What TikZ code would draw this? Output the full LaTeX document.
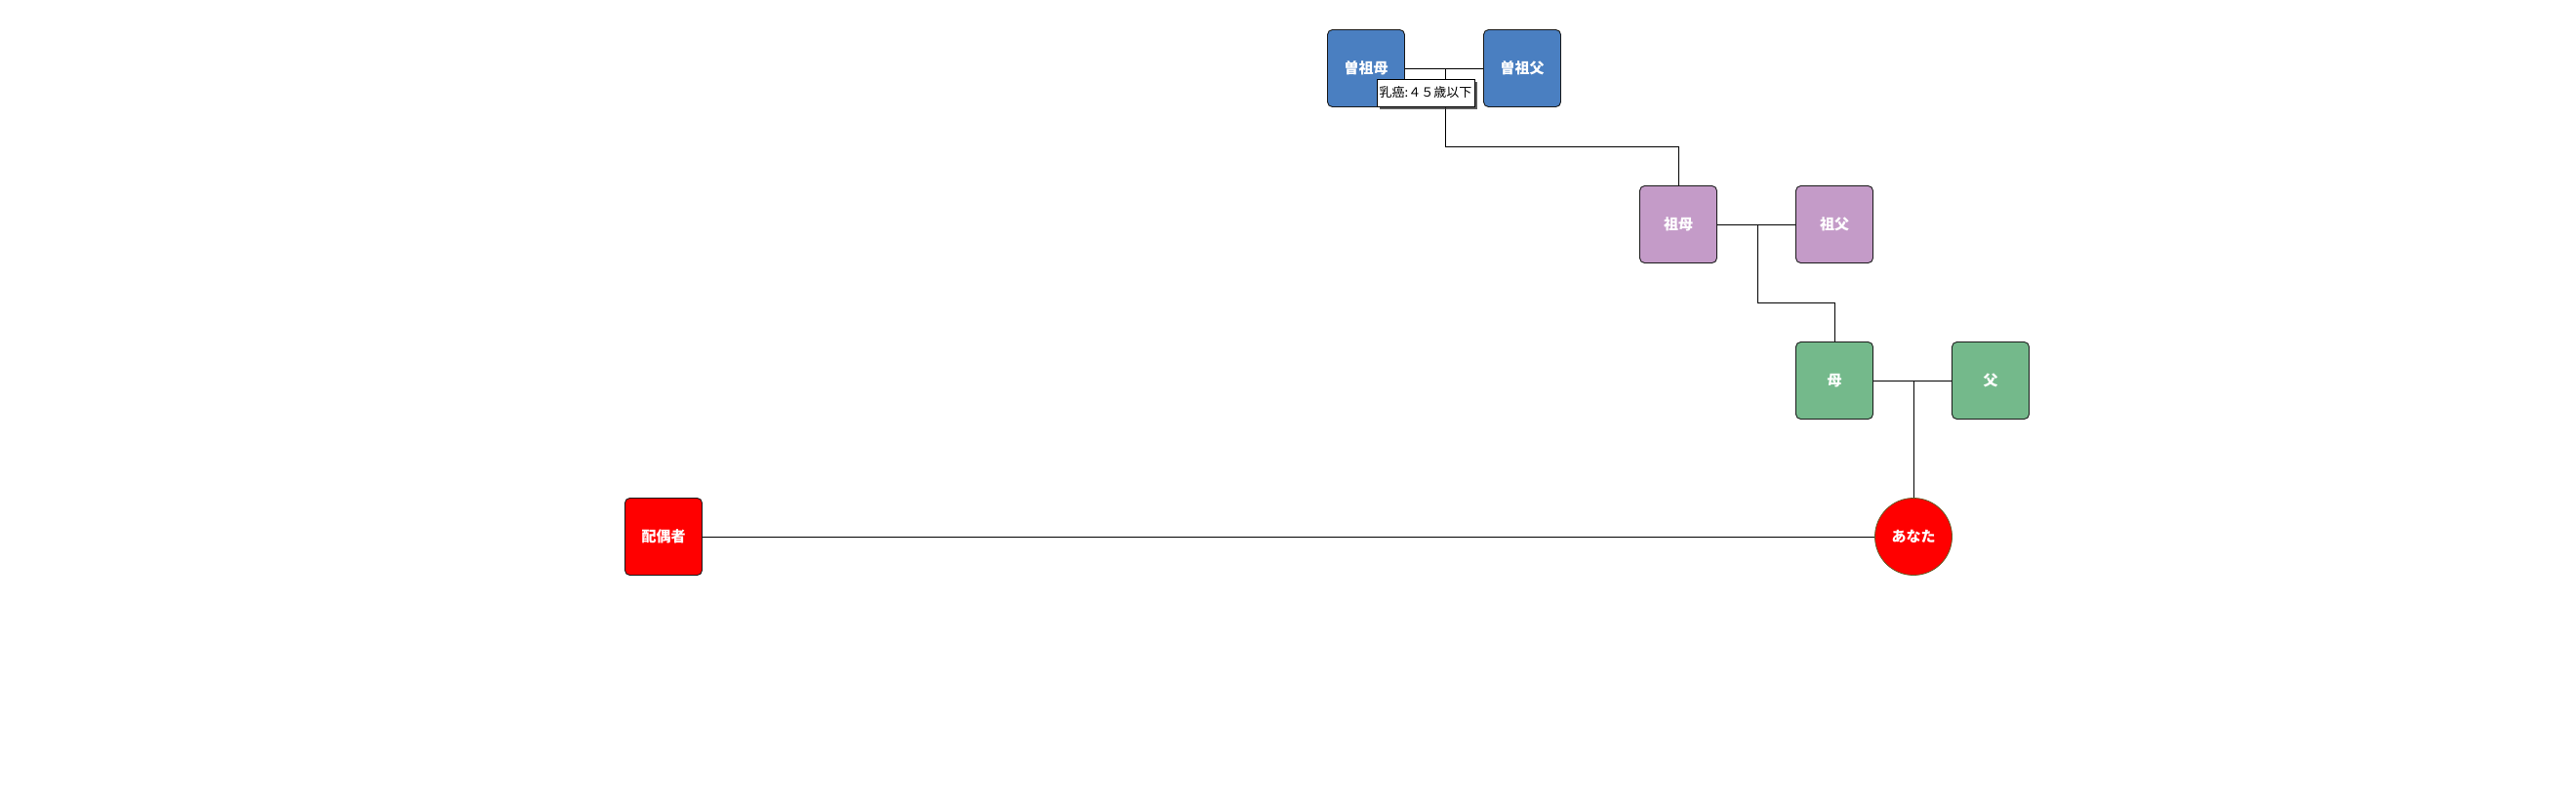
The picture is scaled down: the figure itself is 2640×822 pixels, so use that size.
\documentclass[tikz,border=0pt]{standalone}
\usepackage{fontspec}
\newfontfamily\cjk{Noto Sans CJK JP}
\usetikzlibrary{shadows}
\begin{document}
\begin{tikzpicture}[x=1pt,y=-1pt,
  person/.style={draw=black!90, line width=0.9pt, rounded corners=5pt, minimum width=79pt, minimum height=79pt, inner sep=0pt, font=\cjk\bfseries\fontsize{15}{18}\selectfont, text=white},
  gen1/.style={person, fill=blue1},
  gen2/.style={person, fill=purple1},
  gen3/.style={person, fill=green1},
  selfnode/.style={circle, draw=olive!60!black, line width=0.8pt, fill=red, minimum size=79pt, inner sep=0pt, font=\cjk\bfseries\fontsize{15}{18}\selectfont, text=white},
  spouse/.style={person, fill=red},
  link/.style={draw=black, line width=1pt},
  note/.style={draw=black, line width=0.8pt, fill=white, font=\cjk\fontsize{13}{15}\selectfont, text=black, minimum width=100pt, minimum height=28pt, inner sep=1pt, drop shadow={shadow xshift=3pt, shadow yshift=-3pt, opacity=0.8, fill=black!80}}
]
\definecolor{blue1}{HTML}{4A7FC1}
\definecolor{purple1}{HTML}{C49BC8}
\definecolor{green1}{HTML}{74B98B}
\useasboundingbox (0,0) rectangle (2640,822);
\node[gen1] (ggm) at (1400,70) {曽祖母};
\node[gen1] (ggf) at (1560,70) {曽祖父};
\node[gen2] (gm) at (1720,230) {祖母};
\node[gen2] (gf) at (1880,230) {祖父};
\node[gen3] (m) at (1880,390) {母};
\node[gen3] (f) at (2040,390) {父};
\node[selfnode] (you) at (1961,550) {あなた};
\node[spouse] (sp) at (680,550) {配偶者};
\coordinate (m1) at (1481,70);
\coordinate (m2) at (1801,230);
\coordinate (m3) at (1961,390);
\draw[link] (ggm.east) -- (ggf.west);
\draw[link] (m1) -- (1481,150) -| (gm.north);
\draw[link] (gm.east) -- (gf.west);
\draw[link] (m2) -- (1801,310) -| (m.north);
\draw[link] (m.east) -- (f.west);
\draw[link] (m3) -- (you.north);
\draw[link] (sp.east) -- (you.west);
\node[note] (lbl) at (1461,95) {乳癌:４５歳以下};
\end{tikzpicture}
\end{document}
